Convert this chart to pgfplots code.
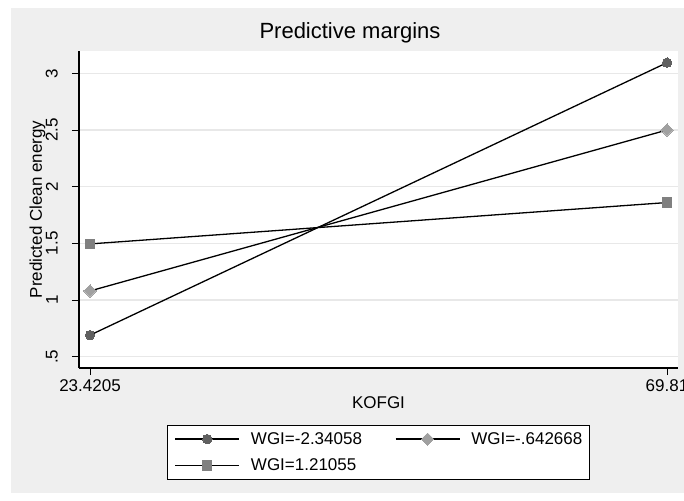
\documentclass[border=0pt]{standalone}
\usepackage{fontspec}
\setmainfont{Liberation Sans}
\usepackage{pgfplots}
\pgfplotsset{compat=1.18}

\definecolor{bggray}{HTML}{EFEFEF}
\definecolor{gridgray}{HTML}{E8E8E8}
\definecolor{mkA}{gray}{0.376}
\definecolor{mkB}{gray}{0.627}
\definecolor{mkC}{gray}{0.5}

\begin{document}
\begin{tikzpicture}[x=1pt,y=1pt]
\useasboundingbox (0,0) rectangle (684,-500);
\fill[white] (0,0) rectangle (684,-500);
\fill[bggray] (11,-8) rectangle (684,-493);
\node[font=\fontsize{22}{26}\selectfont, inner sep=0pt] at (350,-33) {Predictive margins};
\begin{axis}[
  at={(79pt,-368pt)}, anchor=south west,
  scale only axis, width=599pt, height=317pt,
  xmin=22.536, xmax=70.694, ymin=0.4003, ymax=3.197,
  axis lines*=left,
  axis line style={-, black, line width=1.2pt},
  axis background/.style={fill=white},
  /pgf/number format/assume math mode=true,
  xtick={23.4205,69.81}, xticklabels={23.4205,69.81},
  ytick={0.5,1,1.5,2,2.5,3}, yticklabels={.5,1,1.5,2,2.5,3},
  tick align=outside, major tick length=7pt,
  tick style={black, line width=1pt},
  ymajorgrids, grid style={gridgray, line width=1.3pt},
  ticklabel style={font=\fontsize{17}{20}\selectfont, inner sep=0pt},
  xticklabel style={anchor=north, yshift=-4pt},
  yticklabel style={xshift=-14pt, rotate=90, anchor=south},
  every axis x label/.style={at={(axis description cs:0.5,0)}, anchor=center, yshift=-35pt, font=\fontsize{17}{20}\selectfont, inner sep=0pt},
  every axis y label/.style={at={(axis description cs:0,0.5)}, xshift=-41.5pt, rotate=90, anchor=center, font=\fontsize{17}{20}\selectfont, inner sep=0pt},
  xlabel={KOFGI},
  ylabel={Predicted Clean energy},
  legend columns=2,
  legend cell align=left,
  % line sample with the marker in its middle, plus a gap before the text
  legend image code/.code={%
    \draw[mark repeat=2,mark phase=2,#1] plot coordinates {(0pt,0pt) (32pt,0pt) (64pt,0pt)};
    \path (75pt,0pt);},
  legend style={at={(axis description cs:0.5,0)}, anchor=north, yshift=-57pt,
    draw=black, line width=0.9pt, fill=white,
    font=\fontsize{17}{20}\selectfont,
    nodes={inner sep=0pt},
    inner xsep=7pt, inner ysep=7pt, row sep=13pt,
    /tikz/every odd column/.append style={column sep=0pt},
    /tikz/every even column/.append style={column sep=33pt}},
]
\addplot[black, line width=1.3pt, mark=*, mark size=4.7pt, mark options={fill=mkA, draw=mkA, line width=0pt}]
  coordinates {(23.4205,0.690) (69.81,3.094)};
\addlegendentry{WGI=-2.34058}
\addplot[black, line width=1.3pt, mark=square*, mark size=4.3pt, mark options={fill=mkB, draw=mkB, rotate=45, line width=0pt}]
  coordinates {(23.4205,1.080) (69.81,2.500)};
\addlegendentry{WGI=-.642668}
\addplot[black, line width=1.3pt, mark=square*, mark size=4.6pt, mark options={fill=mkC, draw=mkC, line width=0pt}]
  coordinates {(23.4205,1.495) (69.81,1.860)};
\addlegendentry{WGI=1.21055}
\end{axis}
\end{tikzpicture}
\end{document}
